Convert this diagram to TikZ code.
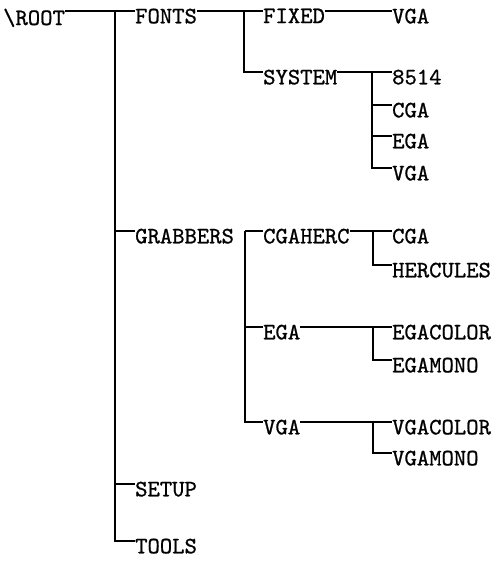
\documentclass[tikz,border=0pt]{standalone}
\usepackage{fontspec}
\newfontfamily\dirfont[FakeBold=0.9]{lmmono10-regular.otf}
\usetikzlibrary{calc}

\begin{document}
\begin{tikzpicture}[x=1pt,y=-1pt,
    dir/.style={font=\dirfont\fontsize{23.5}{28}\selectfont, anchor=north west,
                inner xsep=0pt, inner ysep=-2.5pt},
    branch/.style={line width=1.2pt}]
  \useasboundingbox (0,0) rectangle (495,565);
  % directories
  \node[dir] (root) at (3,11) {\textbackslash ROOT};
  \node[dir] (fonts) at (135,11) {FONTS};
  \node[dir] (fixed) at (263,11) {FIXED};
  \node[dir] (fvga) at (392,11) {VGA};
  \node[dir] (system) at (263,72) {SYSTEM};
  \node[dir] (s8514) at (392,72) {8514};
  \node[dir] (scga) at (392,105) {CGA};
  \node[dir] (sega) at (392,136) {EGA};
  \node[dir] (svga) at (392,168) {VGA};
  \node[dir] (grabbers) at (135,231) {GRABBERS};
  \node[dir] (cgaherc) at (263,231) {CGAHERC};
  \node[dir] (hcga) at (392,231) {CGA};
  \node[dir] (herc) at (392,265) {HERCULES};
  \node[dir] (ega) at (263,327) {EGA};
  \node[dir] (egacolor) at (392,327) {EGACOLOR};
  \node[dir] (egamono) at (392,360) {EGAMONO};
  \node[dir] (vga) at (263,422) {VGA};
  \node[dir] (vgacolor) at (392,422) {VGACOLOR};
  \node[dir] (vgamono) at (392,453) {VGAMONO};
  \node[dir] (setup) at (135,484) {SETUP};
  \node[dir] (tools) at (135,541) {TOOLS};
  % bars
  \coordinate (trunk) at (115,11);
  \coordinate (fontsbar) at (244,11);
  \coordinate (sysbar) at (372,72);
  \coordinate (grabbar) at (245,231);
  \coordinate (cgabar) at (373,231);
  \coordinate (egabar) at (373,327);
  \coordinate (vgabar) at (373,422);
  % branches
  \draw[branch] (root.north east) -- (fonts.north west);
  \draw[branch] (trunk) |- (tools.north west);
  \foreach \n in {grabbers,setup}
    \draw[branch] (trunk |- \n.north) -- (\n.north west);
  \draw[branch] (fonts.north east) -- (fixed.north west);
  \draw[branch] (fontsbar) |- (system.north west);
  \draw[branch] (fixed.north east) -- (fvga.north west);
  \draw[branch] (system.north east) -- (s8514.north west);
  \draw[branch] (sysbar) |- (svga.north west);
  \foreach \n in {scga,sega}
    \draw[branch] (sysbar |- \n.north) -- (\n.north west);
  \draw[branch] (grabbar) -- (cgaherc.north west);
  \draw[branch] (grabbar) |- (vga.north west);
  \draw[branch] (grabbar |- ega.north) -- (ega.north west);
  \draw[branch] (cgaherc.north east) -- (hcga.north west);
  \draw[branch] (cgabar) |- (herc.north west);
  \draw[branch] (ega.north east) -- (egacolor.north west);
  \draw[branch] (egabar) |- (egamono.north west);
  \draw[branch] (vga.north east) -- (vgacolor.north west);
  \draw[branch] (vgabar) |- (vgamono.north west);
\end{tikzpicture}
\end{document}
